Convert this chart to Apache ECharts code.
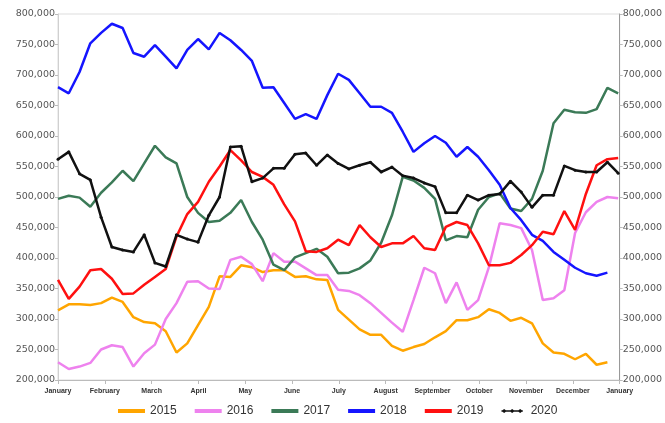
<!DOCTYPE html>
<html><head><meta charset="utf-8">
<script src="https://cdn.jsdelivr.net/npm/echarts@6/dist/echarts.min.js"></script>
<style>html,body{margin:0;padding:0;background:#fff}#c{width:665px;height:423px}</style>
</head><body><div id="c"></div>
<script>
const months = ['January','February','March','April','May','June','July','August','September','October','November','December','January'];
const yTicks = [200000,250000,300000,350000,400000,450000,500000,550000,600000,650000,700000,750000,800000];
const s2015 = [314000,324000,324000,323000,326000,335000,328000,303000,295000,293000,280000,245000,260000,290000,320000,370000,369000,388000,385000,377000,380000,380000,369000,370000,365000,364000,315000,299000,283000,274000,274000,256000,248000,254000,259000,270000,280000,298000,298000,303000,316000,310000,297000,302000,293000,260000,245000,243000,234000,243000,225000,229000];
const s2016 = [229000,218000,222000,228000,250000,257000,254000,222000,244000,258000,300000,326000,361000,362000,350000,349000,397000,402000,390000,362000,408000,394000,394000,383000,372000,372000,348000,346000,339000,326000,310000,294000,279000,331000,384000,375000,326000,360000,315000,331000,385000,457000,454000,449000,413000,331000,334000,347000,441000,475000,492000,500000,498000];
const s2017 = [497000,502000,499000,484000,507000,524000,543000,526000,555000,584000,565000,555000,500000,474000,459000,461000,474000,495000,459000,430000,389000,380000,401000,408000,415000,402000,375000,376000,383000,396000,425000,470000,533000,527000,515000,497000,429000,436000,434000,479000,500000,506000,481000,477000,497000,543000,621000,643000,639000,638000,644000,679000,670000];
const s2018 = [680000,670000,705000,752000,769000,784000,777000,736000,730000,749000,730000,711000,741000,759000,742000,769000,757000,741000,723000,679000,680000,654000,628000,636000,628000,667000,702000,692000,670000,648000,648000,638000,607000,574000,588000,600000,589000,566000,582000,566000,544000,520000,482000,462000,438000,428000,410000,397000,384000,375000,371000,376000];
const s2019 = [364000,333000,353000,380000,382000,366000,341000,342000,356000,369000,382000,435000,472000,492000,525000,550000,577000,560000,541000,533000,520000,488000,460000,411000,410000,416000,430000,421000,454000,434000,418000,424000,424000,436000,416000,413000,451000,459000,454000,424000,388000,388000,392000,405000,421000,443000,439000,477000,446000,505000,552000,562000,564000];
const s2020 = [562000,574000,538000,528000,467000,418000,413000,410000,438000,392000,386000,438000,431000,426000,470000,500000,582000,583000,525000,531000,547000,547000,570000,572000,552000,569000,555000,546000,552000,557000,541000,549000,535000,531000,523000,517000,474000,474000,503000,495000,503000,505000,526000,508000,483000,503000,503000,551000,544000,541000,541000,557000,539000];

const weekDays = 7;
const toPts = arr => arr.map((v,i)=>[i*weekDays, v]);
const fmt = v => v.toLocaleString('en-US');
const step = 365/12;

const chart = echarts.init(document.getElementById('c'));
const mk = (name, data, color, extra) => Object.assign({
  name, type:'line', data: toPts(data), showSymbol:false, symbol:'none',
  lineStyle:{width:2.5, color}, itemStyle:{color}, animation:false
}, extra||{});

const yAx = (pos) => ({
  type:'value', position:pos, min:yTicks[0], max:yTicks[yTicks.length-1], interval:50000,
  splitLine:{show:false},
  axisLine:{show:true, lineStyle:{color: pos==='left' ? '#d0d0d0' : '#999', width:1}},
  axisTick:{show:true, length:3, lineStyle:{color:'#bbb'}},
  axisLabel:{fontFamily:'DejaVu Sans', fontSize:9.5, color:'#555', formatter: fmt, margin: 3}
});

chart.setOption({
  backgroundColor:'#fff',
  animation:false,
  grid:{left:58, right:43, top:14, bottom:43, show:true, borderColor:'#dddddd', borderWidth:1},
  legend:{
    bottom:1, left:113, itemWidth:27, itemHeight:4, itemGap:18,
    textStyle:{fontFamily:'Liberation Sans, Arial', fontSize:12, color:'#333'},
    data:[{name:'2015',icon:'rect'},{name:'2016',icon:'rect'},{name:'2017',icon:'rect'},{name:'2018',icon:'rect'},{name:'2019',icon:'rect'},
      {name:'2020', icon:'path://M0,1.5 L2,0 L4,1.5 L2,3 Z M6,1.5 L8,0 L10,1.5 L8,3 Z M12,1.5 L14,0 L16,1.5 L14,3 Z M0,1 L16,1 L16,2 L0,2 Z'}]
  },
  xAxis:{
    type:'value', min:0, max:365, interval:step,
    splitLine:{show:false},
    axisLine:{lineStyle:{color:'#bbb'}},
    axisTick:{show:true, length:4, lineStyle:{color:'#bbb'}},
    axisLabel:{fontFamily:'Liberation Sans, Arial', fontSize:7, fontWeight:'bold', color:'#333', margin:8,
      showMaxLabel:true, showMinLabel:true,
      formatter: v => months[Math.round(v/step)] || ''}
  },
  yAxis:[yAx('left'), yAx('right')],
  series:[
    mk('2015', s2015, '#FFA500'),
    mk('2016', s2016, '#EE82EE'),
    mk('2017', s2017, '#3B7A57'),
    mk('2018', s2018, '#1515FF'),
    mk('2019', s2019, '#FF1010'),
    mk('2020', s2020, '#111111', {showSymbol:true, symbol:'circle', symbolSize:3})
  ]
});
</script></body></html>
